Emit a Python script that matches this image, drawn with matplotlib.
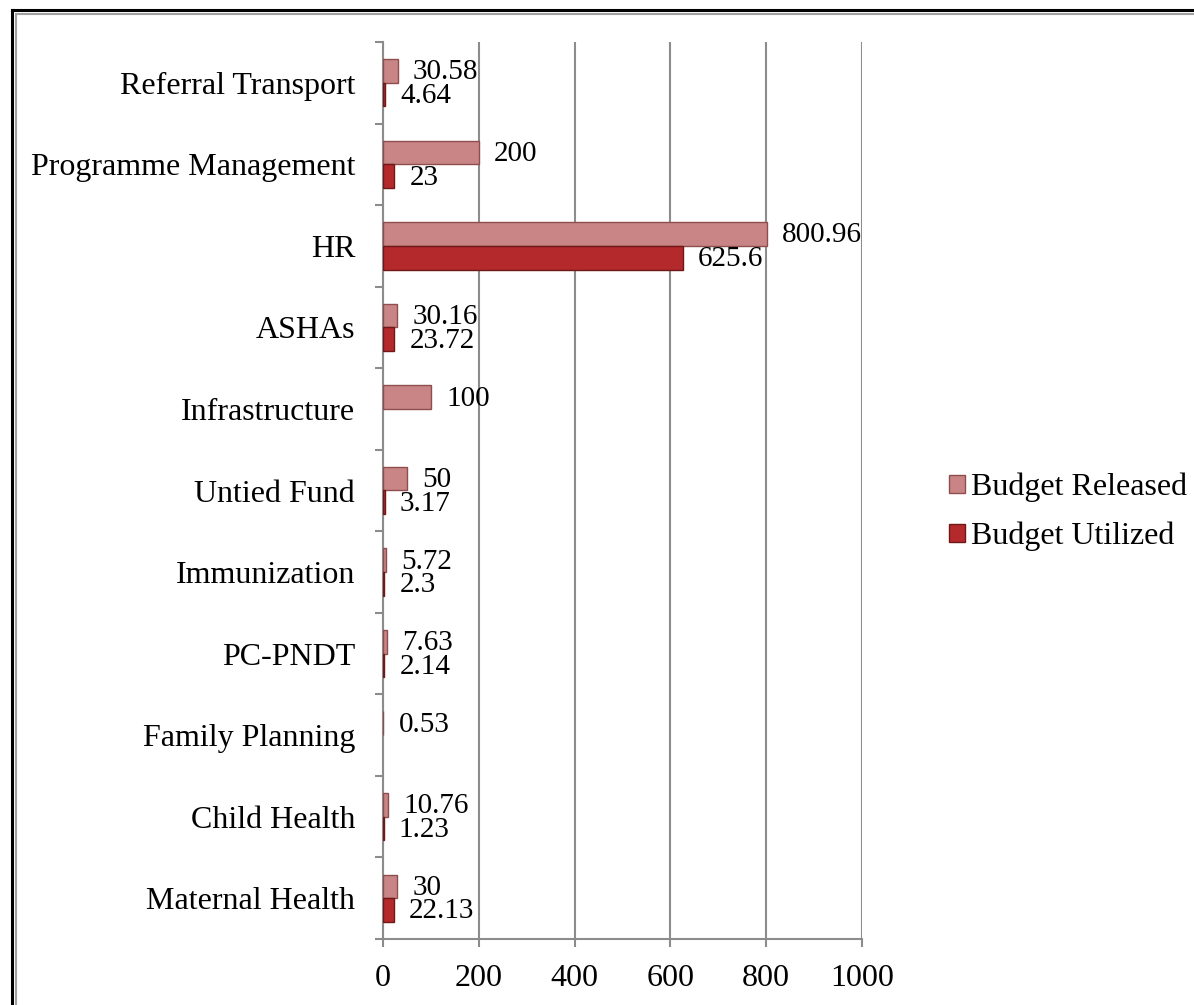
import numpy as np
from matplotlib import pyplot as plt
from matplotlib.lines import Line2D

# categories listed bottom -> top, as in the chart
components = ["Maternal Health", "Child Health", "Family Planning", "PC-PNDT",
              "Immunization", "Untied Fund", "Infrastructure", "ASHAs", "HR",
              "Programme Management", "Referral Transport"]
released = [30, 10.76, 0.53, 7.63, 5.72, 50, 100, 30.16, 800.96, 200, 30.58]
utilized = [22.13, 1.23, None, 2.14, 2.3, 3.17, None, 23.72, 625.6, 23, 4.64]
label_released = ["30", "10.76", "0.53", "7.63", "5.72", "50", "100", "30.16", "800.96", "200", "30.58"]
label_utilized = ["22.13", "1.23", None, "2.14", "2.3", "3.17", None, "23.72", "625.6", "23", "4.64"]

plt.rcParams['font.family'] = ['Liberation Serif', 'DejaVu Serif']

fig = plt.figure(figsize=(11.94, 10.05), dpi=100)
ax = fig.add_axes([383/1194, 1-939/1005, 479/1194, 897/1005])

y = np.arange(len(components))
h = 0.29
rel = np.array([np.nan if v is None else v for v in released], dtype=float)
uti = np.array([np.nan if v is None else v for v in utilized], dtype=float)

ax.barh(y + h/2, rel, height=h, color='#C98585', edgecolor='#8F4D4D', linewidth=1, zorder=3,
        label='Budget Released')
ax.barh(y - h/2, uti, height=h, color='#B3292C', edgecolor='#701818', linewidth=1, zorder=3,
        label='Budget Utilized')

for i in range(len(components)):
	if label_released[i] is not None:
		ax.annotate(label_released[i], (rel[i], y[i] + h/2), xytext=(11, -1), textcoords='offset points',
		            va='center', ha='left', fontsize=21)
	if label_utilized[i] is not None:
		ax.annotate(label_utilized[i], (uti[i], y[i] - h/2), xytext=(11, -1), textcoords='offset points',
		            va='center', ha='left', fontsize=21)

ax.set_xlim(0, 1000)
ax.set_ylim(-0.5, len(components) - 0.5)
ax.set_xticks(range(0, 1001, 200))
ax.set_yticks(y)
ax.set_yticklabels(components)
ax.set_yticks(np.arange(-0.5, len(components), 1), minor=True)
ax.tick_params(axis='y', which='major', length=0, pad=20, labelsize=23)
ax.tick_params(axis='y', which='minor', length=6, width=1.5, color='#8C8C8C')
ax.tick_params(axis='x', which='major', length=6, width=1.5, color='#8C8C8C', pad=12, labelsize=23)
ax.grid(axis='x', color='#8C8C8C', linewidth=1.5, zorder=0)
for s in ['top', 'right']:
	ax.spines[s].set_visible(False)
for s in ['left', 'bottom']:
	ax.spines[s].set_color('#8C8C8C')
	ax.spines[s].set_linewidth(1.5)

fig.legend(loc='center left', bbox_to_anchor=(933/1194, 1-512/1005), frameon=False, fontsize=23,
           handlelength=0.5, handleheight=0.5, handletextpad=0.2, labelspacing=0.6, borderpad=0)

# outer frame of the figure box
fig.add_artist(Line2D([12/1194, 12/1194], [0, 1-10/1005], color='black', lw=2.2))
fig.add_artist(Line2D([16/1194, 16/1194], [0, 1-14/1005], color='#A0A0A0', lw=1.5))
fig.add_artist(Line2D([12/1194, 1], [1-10/1005, 1-10/1005], color='black', lw=2.2))
fig.add_artist(Line2D([16/1194, 1], [1-14/1005, 1-14/1005], color='#A0A0A0', lw=1.5))

fig.savefig('out.png', dpi=100)
